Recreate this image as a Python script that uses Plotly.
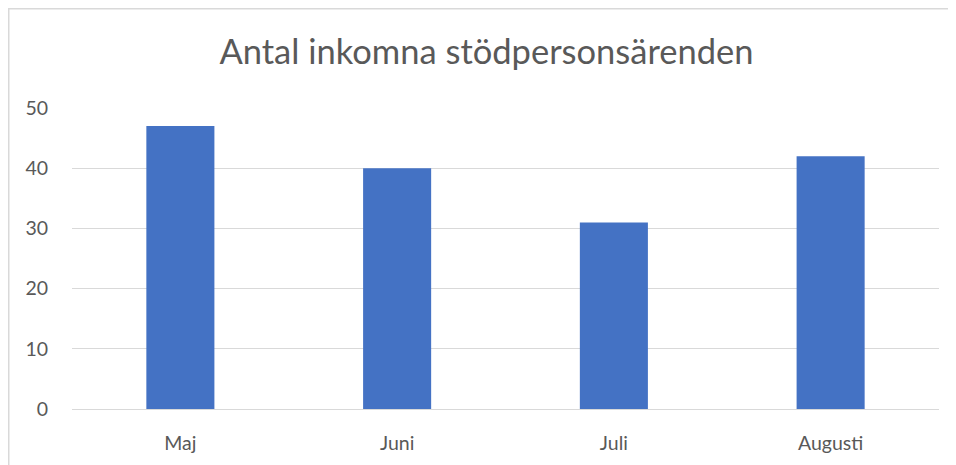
import plotly.graph_objects as go

months = ["Maj", "Juni", "Juli", "Augusti"]
counts = [47, 40, 31, 42]
y_ticks = [0, 10, 20, 30, 40, 50]
title_text = "Antal inkomna stödpersonsärenden"

W, H = 948, 457
L, R, T, B = 64, 17, 100, 56

fig = go.Figure(go.Bar(x=months, y=counts, marker=dict(color="#4472C4", line=dict(width=0))))

fig.update_layout(
    width=W, height=H,
    margin=dict(l=L, r=R, t=T, b=B),
    paper_bgcolor="white", plot_bgcolor="white",
    bargap=0.686,
    showlegend=False,
    font=dict(family="Lato", color="#595959"),
    title=dict(text=title_text, x=478.5 / W, xanchor="center", xref="container",
               y=1 - 44 / H, yanchor="middle", yref="container",
               font=dict(family="Lato", size=34.5, color="#595959")),
)
fig.update_xaxes(showgrid=False, showline=False, ticks="", tickfont=dict(size=19.5, color="#595959"),
                 ticklabelstandoff=20)
fig.update_yaxes(range=[0, 50], tickvals=y_ticks, showgrid=True, gridcolor="#d9d9d9", gridwidth=1.3,
                 zeroline=True, zerolinecolor="#d9d9d9", zerolinewidth=1.3, showline=False, ticks="",
                 tickfont=dict(size=19.5, color="#595959"), ticklabelstandoff=23)

px_w = W - L - R
px_h = H - T - B
# chart-area frame (left and top edges; right/bottom fall outside the visible window)
fig.add_shape(type="rect", xref="paper", yref="paper",
              x0=(0.75 - L) / px_w, x1=(W + 5 - L) / px_w,
              y0=(-5 - B) / px_h, y1=(H - B - 0.75) / px_h,
              line=dict(color="#d9d9d9", width=1.5), fillcolor="rgba(0,0,0,0)", layer="below")

fig.write_html("out.html")
